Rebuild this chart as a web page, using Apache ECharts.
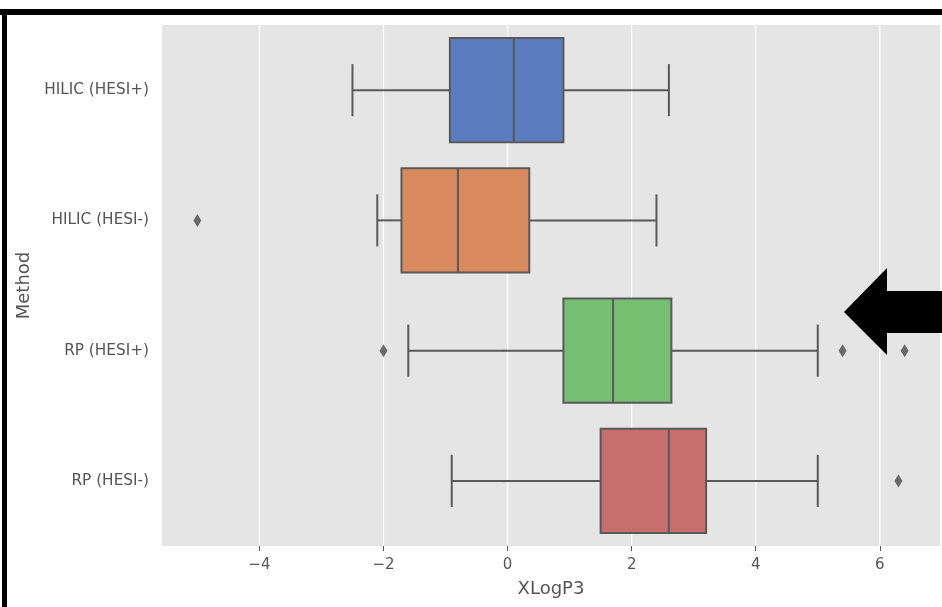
<!DOCTYPE html>
<html>
<head>
<meta charset="utf-8">
<script src="https://cdn.jsdelivr.net/npm/echarts@6/dist/echarts.min.js"></script>
<style>
  html, body { margin: 0; padding: 0; background: #ffffff; }
  #chart { width: 942px; height: 607px; }
</style>
</head>
<body>
<div id="chart"></div>
<script>
// Methods, top to bottom
const methods = ['HILIC (HESI+)', 'HILIC (HESI-)', 'RP (HESI+)', 'RP (HESI-)'];

// Box statistics per method (XLogP3)
const whiskerLow  = [-2.5, -2.1, -1.6, -0.9];
const quartile1   = [-0.93, -1.71, 0.9, 1.5];
const medians     = [0.1, -0.8, 1.7, 2.6];
const quartile3   = [0.9, 0.35, 2.64, 3.2];
const whiskerHigh = [2.6, 2.4, 5.0, 5.0];

// Outlying points: [XLogP3, method]
const outliers = [
  [-5.0, 'HILIC (HESI-)'],
  [-2.0, 'RP (HESI+)'],
  [5.4, 'RP (HESI+)'],
  [6.4, 'RP (HESI+)'],
  [6.3, 'RP (HESI-)']
];

// X axis ticks and range
const xTicks = [-4, -2, 0, 2, 4, 6];
const xMin = -5.57;
const xMax = 6.97;

const boxColors = ['#597DBF', '#D98B5F', '#76BF71', '#C76E6E'];
const edgeColor = '#595959';
const textColor = '#555555';
const font = 'DejaVu Sans';

const boxData = methods.map((m, i) => [i, whiskerLow[i], quartile1[i], medians[i], quartile3[i], whiskerHigh[i]]);
const gridData = xTicks.map(v => [v, 0]);

function renderBox(params, api) {
  const ci = api.value(0);
  const band = Math.abs(api.size([0, 1])[1]);
  const half = band * 0.4;
  const capHalf = band * 0.2;
  const pLow = api.coord([api.value(1), ci]);
  const pQ1 = api.coord([api.value(2), ci]);
  const pMed = api.coord([api.value(3), ci]);
  const pQ3 = api.coord([api.value(4), ci]);
  const pHigh = api.coord([api.value(5), ci]);
  const y = pMed[1];
  const line = { stroke: edgeColor, lineWidth: 2 };
  return {
    type: 'group',
    children: [
      { type: 'line', shape: { x1: pLow[0], y1: y, x2: pQ1[0], y2: y }, style: line },
      { type: 'line', shape: { x1: pQ3[0], y1: y, x2: pHigh[0], y2: y }, style: line },
      { type: 'line', shape: { x1: pLow[0], y1: y - capHalf, x2: pLow[0], y2: y + capHalf }, style: line },
      { type: 'line', shape: { x1: pHigh[0], y1: y - capHalf, x2: pHigh[0], y2: y + capHalf }, style: line },
      { type: 'rect', shape: { x: pQ1[0], y: y - half, width: pQ3[0] - pQ1[0], height: half * 2 },
        style: { fill: boxColors[ci], stroke: edgeColor, lineWidth: 2 } },
      { type: 'line', shape: { x1: pMed[0], y1: y - half, x2: pMed[0], y2: y + half }, style: line }
    ]
  };
}

function renderGridLine(params, api) {
  const cs = params.coordSys;
  const x = api.coord([api.value(0), 0])[0];
  return {
    type: 'line',
    shape: { x1: x, y1: cs.y, x2: x, y2: cs.y + cs.height },
    style: { stroke: '#ffffff', lineWidth: 1.2 }
  };
}

const chart = echarts.init(document.getElementById('chart'), null, { renderer: 'canvas' });

chart.setOption({
  backgroundColor: '#ffffff',
  animation: false,
  textStyle: { fontFamily: font },
  grid: {
    left: 162, right: 2, top: 25, bottom: 61,
    show: true, backgroundColor: '#E5E5E5', borderWidth: 0
  },
  xAxis: {
    type: 'value',
    min: xMin,
    max: xMax,
    name: 'XLogP3',
    nameLocation: 'middle',
    nameGap: 34,
    nameTextStyle: { color: textColor, fontSize: 18, fontFamily: font },
    axisLine: { show: false },
    splitLine: { show: false },
    axisTick: { show: true, length: 5, customValues: xTicks, lineStyle: { color: textColor, width: 1 } },
    axisLabel: {
      customValues: xTicks,
      color: textColor, fontSize: 15, fontFamily: font, margin: 12,
      formatter: v => (v < 0 ? '\u2212' + Math.abs(v) : String(v))
    }
  },
  yAxis: {
    type: 'category',
    data: methods,
    inverse: true,
    name: 'Method',
    nameLocation: 'middle',
    nameRotate: 90,
    nameGap: 123,
    nameTextStyle: { color: textColor, fontSize: 18, fontFamily: font },
    axisLine: { show: false },
    splitLine: { show: false },
    axisTick: { show: true, alignWithLabel: true, length: 5, lineStyle: { color: textColor, width: 1.2 } },
    axisLabel: { color: textColor, fontSize: 15.3, fontFamily: font, margin: 13, padding: [4, 0, 0, 0] }
  },
  series: [
    {
      type: 'custom',
      name: 'grid',
      silent: true,
      z: 1,
      renderItem: renderGridLine,
      encode: { x: 0, y: 1 },
      data: gridData
    },
    {
      type: 'custom',
      name: 'XLogP3',
      z: 2,
      renderItem: renderBox,
      encode: { y: 0, x: [1, 2, 3, 4, 5] },
      data: boxData
    },
    {
      type: 'scatter',
      name: 'outliers',
      z: 3,
      symbol: 'diamond',
      symbolSize: [8, 13],
      itemStyle: { color: '#4a4a4a' },
      data: outliers
    }
  ],
  graphic: [
    { type: 'rect', shape: { x: 0, y: 9, width: 942, height: 6 }, style: { fill: '#000000' }, z: 100 },
    { type: 'rect', shape: { x: 2, y: 13, width: 5, height: 594 }, style: { fill: '#000000' }, z: 100 },
    {
      type: 'polygon',
      shape: { points: [[844, 312], [887, 268], [887, 291], [942, 291], [942, 333], [887, 333], [887, 355]] },
      style: { fill: '#000000' },
      z: 100
    }
  ]
});
</script>
</body>
</html>
